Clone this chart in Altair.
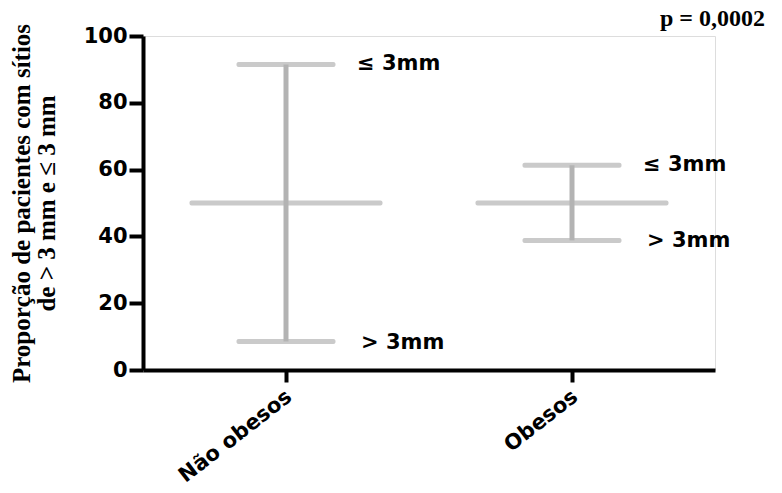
import altair as alt
import pandas as pd

groups = ["Não obesos", "Obesos"]
mean_vals = [50, 50]
upper_vals = [91.5, 61.3]
lower_vals = [8.5, 38.8]
upper_labels = ["≤ 3mm", "≤ 3mm"]
lower_labels = ["> 3mm", "> 3mm"]
y_ticks = [0, 20, 40, 60, 80, 100]
p_text = ["p = 0,0002"]

df = pd.DataFrame({
    "grupo": groups, "media": mean_vals, "sup": upper_vals, "inf": lower_vals,
    "lab_sup": upper_labels, "lab_inf": lower_labels,
})
df_p = pd.DataFrame({"p": p_text})

GRAY = "#b3b3b3"
SANS = "DejaVu Sans"
SERIF = "Liberation Serif"
xenc = alt.X("grupo:N", sort=groups, scale=alt.Scale(type="point", padding=0.5),
             axis=alt.Axis(title=None, labelAngle=-38, labelAlign="right", labelBaseline="middle",
                           labelFont=SANS, labelFontWeight="bold", labelFontSize=21,
                           labelColor="black", domainColor="black", domainWidth=4,
                           tickColor="black", tickWidth=4, tickSize=12, labelPadding=12,
                           labelOffset=3))
yscale = alt.Scale(domain=[0, 100], nice=False)
yaxis = alt.Axis(values=y_ticks, grid=False,
                 title=["Proporção de pacientes com sítios", "de > 3 mm e ≤ 3 mm"],
                 titleFont=SERIF, titleFontWeight="bold", titleFontSize=25,
                 titleColor="black", titlePadding=24, titleLineHeight=25,
                 labelFont=SANS, labelFontWeight="bold", labelFontSize=21,
                 labelColor="black", domainColor="black", domainWidth=4,
                 tickColor="black", tickWidth=4, tickSize=14, labelPadding=2)

base = alt.Chart(df)
vrule = base.mark_rule(color=GRAY, strokeWidth=5).encode(
    x=xenc, y=alt.Y("inf:Q", scale=yscale, axis=yaxis), y2="sup:Q")
mean_t = base.mark_tick(color=GRAY, orient="horizontal", size=193, thickness=5, cornerRadius=2).encode(
    x=xenc, y=alt.Y("media:Q", scale=yscale))
up_t = base.mark_tick(color=GRAY, orient="horizontal", size=99, thickness=5, cornerRadius=2).encode(
    x=xenc, y=alt.Y("sup:Q", scale=yscale))
lo_t = base.mark_tick(color=GRAY, orient="horizontal", size=99, thickness=5, cornerRadius=2).encode(
    x=xenc, y=alt.Y("inf:Q", scale=yscale))
txt_style = dict(align="left", baseline="middle", font=SANS, fontWeight="bold",
                 fontSize=21, color="black")
up_txt = base.mark_text(dx=71, **txt_style).encode(x=xenc, y=alt.Y("sup:Q", scale=yscale), text="lab_sup:N")
lo_txt = base.mark_text(dx=75, dy=1, **txt_style).encode(x=xenc, y=alt.Y("inf:Q", scale=yscale), text="lab_inf:N")
p_txt = alt.Chart(df_p).mark_text(align="right", baseline="alphabetic", font=SERIF, fontWeight="bold",
                                  fontSize=24, color="black").encode(
    x=alt.value(622), y=alt.value(-10), text="p:N")

chart = alt.layer(vrule, mean_t, up_t, lo_t, up_txt, lo_txt, p_txt).properties(
    width=572, height=334,
    autosize=alt.AutoSizeParams(type="none"),
    padding={"left": 135, "top": 28, "right": 59, "bottom": 115},
).configure_view(stroke=None).configure(background="white")

chart.save("out.html", embed_options={"renderer": "svg", "actions": False})
